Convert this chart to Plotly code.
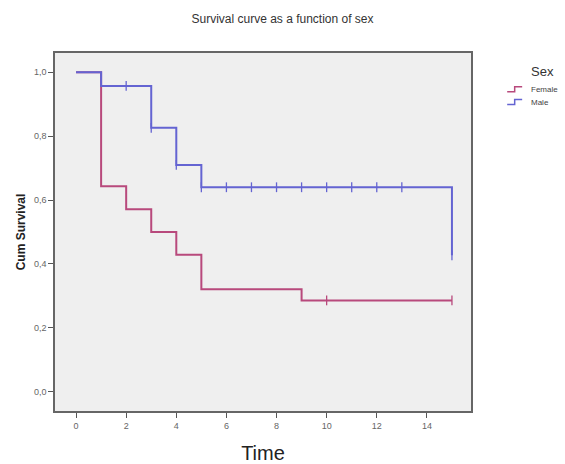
import plotly.graph_objects as go

# Kaplan-Meier step data
female_time = [0, 1, 2, 3, 4, 5, 9, 15]
female_surv = [1.0, 0.643, 0.571, 0.500, 0.429, 0.321, 0.286, 0.286]
female_cens_time = [10, 15]
female_cens_surv = [0.286, 0.286]

male_time = [0, 1, 3, 4, 5, 15, 15]
male_surv = [1.0, 0.957, 0.826, 0.710, 0.640, 0.640, 0.427]
male_cens_time = [2, 3, 4, 5, 6, 7, 8, 9, 10, 11, 12, 13, 15]
male_cens_surv = [0.957, 0.826, 0.710, 0.640, 0.640, 0.640, 0.640, 0.640, 0.640, 0.640, 0.640, 0.640, 0.427]

x_ticks = [0, 2, 4, 6, 8, 10, 12, 14]
y_ticks = [0.0, 0.2, 0.4, 0.6, 0.8, 1.0]

FEMALE = "#b8497c"
MALE = "#6464d2"

fig = go.Figure()
fig.add_trace(go.Scatter(x=female_time, y=female_surv, mode="lines",
                         line=dict(color=FEMALE, width=2, shape="hv"),
                         name="Female", showlegend=False))
fig.add_trace(go.Scatter(x=male_time, y=male_surv, mode="lines",
                         line=dict(color=MALE, width=2, shape="hv"),
                         name="Male", showlegend=False))
fig.add_trace(go.Scatter(x=female_cens_time, y=female_cens_surv, mode="markers",
                         marker=dict(symbol="line-ns", size=7, line=dict(color=FEMALE, width=1.3)),
                         showlegend=False))
fig.add_trace(go.Scatter(x=male_cens_time, y=male_cens_surv, mode="markers",
                         marker=dict(symbol="line-ns", size=7, line=dict(color=MALE, width=1.3)),
                         showlegend=False))

# manual legend with step icons
def step_icon(x0, y0, color):
    w, h = 0.036, 0.014
    path = (f"M {x0},{y0} L {x0+w*0.5},{y0} L {x0+w*0.5},{y0+h} L {x0+w},{y0+h}")
    fig.add_shape(type="path", xref="paper", yref="paper", path=path,
                  line=dict(color=color, width=1.5))

step_icon(1.087, 0.892, FEMALE)
step_icon(1.087, 0.856, MALE)
fig.add_annotation(x=1.173, y=0.947, xref="paper", yref="paper", text="Sex",
                   showarrow=False, xanchor="center", yanchor="middle",
                   font=dict(size=13, color="#333333"))
fig.add_annotation(x=1.140, y=0.899, xref="paper", yref="paper", text="Female",
                   showarrow=False, xanchor="left", yanchor="middle",
                   font=dict(size=8, color="#444444"))
fig.add_annotation(x=1.140, y=0.863, xref="paper", yref="paper", text="Male",
                   showarrow=False, xanchor="left", yanchor="middle",
                   font=dict(size=8, color="#444444"))

fig.update_layout(
    width=565, height=464,
    margin=dict(l=55, r=94, t=53, b=53),
    paper_bgcolor="white",
    plot_bgcolor="#efefef",
    separators=",.",
    font=dict(family="Liberation Sans, Arial, sans-serif", color="#444444"),
    title=dict(text="Survival curve as a function of sex", x=0.5, xanchor="center",
               y=0.96, yanchor="middle", font=dict(size=12, color="#333333")),
    xaxis=dict(range=[-0.84, 15.76], tickvals=x_ticks, ticks="outside", ticklen=5,
               tickcolor="#555555", tickfont=dict(size=9, color="#666666"),
               showgrid=False, zeroline=False, showline=True, linecolor="#666666",
               linewidth=1.5, mirror=True, automargin=False,
               title=dict(text="Time", font=dict(size=20, color="#222222"), standoff=16)),
    yaxis=dict(range=[-0.06, 1.06], tickvals=y_ticks, tickformat=".1f", ticks="outside",
               ticklen=5, tickcolor="#555555", tickfont=dict(size=9, color="#666666"),
               showgrid=False, zeroline=False, showline=True, linecolor="#666666",
               linewidth=1.5, mirror=True, automargin=False,
               title=dict(text="<b>Cum Survival</b>", font=dict(size=12, color="#222222"), standoff=6)),
)

fig.write_html("out.html")
